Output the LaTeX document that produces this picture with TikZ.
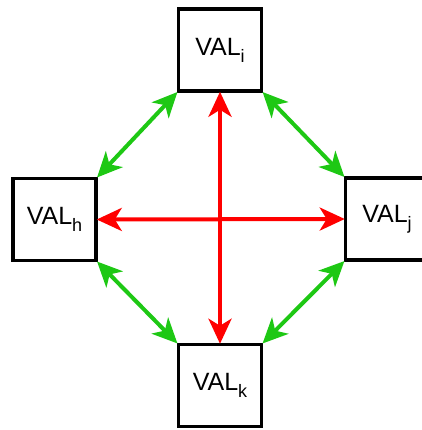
\documentclass[tikz,border=0pt]{standalone}
\usepackage{fontspec}
\setmainfont{Liberation Sans}
\usetikzlibrary{arrows.meta}
\definecolor{arrgreen}{RGB}{30,200,20}
\definecolor{arrred}{RGB}{255,0,0}
\newcommand{\valsub}[1]{VAL\raisebox{-7pt}{\fontsize{18}{20}\selectfont #1}}
\begin{document}
\begin{tikzpicture}[x=1pt,y=-1pt,
  valbox/.style={draw=black,line width=3.5pt,minimum width=83pt,minimum height=82pt,inner sep=0pt,font=\fontsize{25}{28}\selectfont,fill=white},
  garrow/.style={draw=arrgreen,line width=4pt,{Stealth[length=25pt,width=23pt,inset=7pt]}-{Stealth[length=25pt,width=23pt,inset=7pt]},shorten <=-1pt,shorten >=-1pt},
  rarrow/.style={draw=arrred,line width=4pt,{Stealth[length=25pt,width=23pt,inset=7pt]}-{Stealth[length=25pt,width=23pt,inset=7pt]},shorten <=-1pt,shorten >=-1pt}]
\useasboundingbox (0,0) rectangle (421,430);
\node[valbox] (i) at (220,50) {\valsub{i}};
\node[valbox] (h) at (54.5,219.5) {\valsub{h}};
\node[valbox] (j) at (387,219) {\valsub{j}};
\node[valbox] (k) at (220,385.5) {\valsub{k}};
\draw[rarrow] (h.east) -- (j.west);
\draw[rarrow] (i.south) -- (k.north);
\draw[garrow] (i.south west) -- (h.north east);
\draw[garrow] (i.south east) -- (j.north west);
\draw[garrow] (h.south east) -- (k.north west);
\draw[garrow] (j.south west) -- (k.north east);
\end{tikzpicture}
\end{document}
